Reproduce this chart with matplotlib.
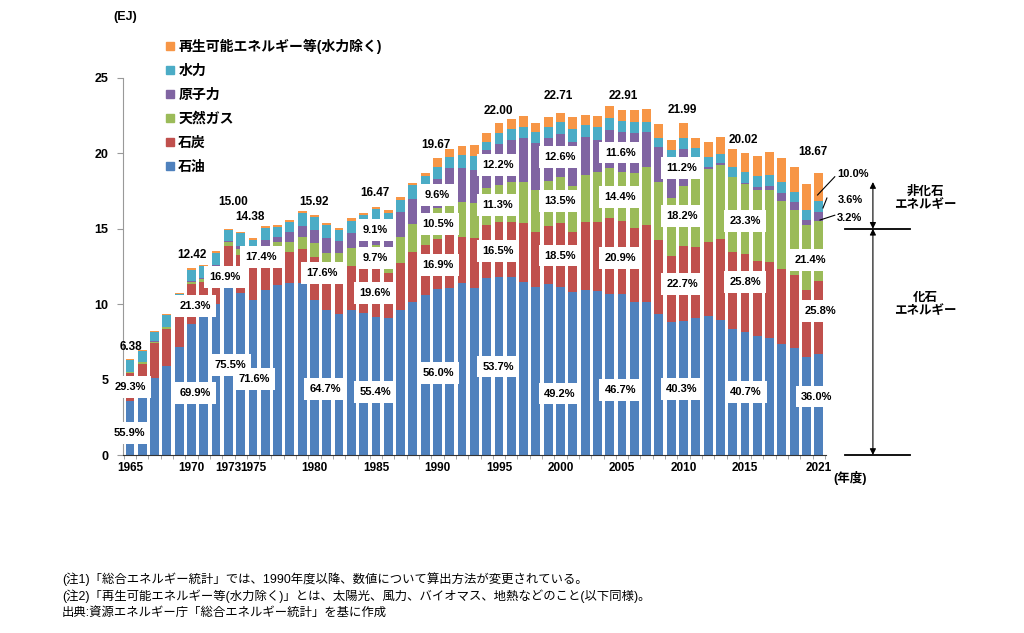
import numpy as np
import matplotlib
matplotlib.use("Agg")
import matplotlib.pyplot as plt
from matplotlib.lines import Line2D

plt.rcParams['font.family'] = ['Liberation Sans', 'Noto Sans CJK JP', 'DejaVu Sans']

# --- data (EJ) ---
years = list(range(1965, 2022))
oil = [3.57, 4.10, 5.10, 5.90, 7.16, 8.68, 9.20, 10.00, 11.33, 10.74,
       10.30, 10.94, 11.27, 11.38, 11.40, 10.30, 9.62, 9.33, 9.60, 9.40,
       9.12, 9.08, 9.62, 10.17, 10.60, 11.02, 11.07, 11.40, 11.07, 11.72,
       11.81, 11.80, 11.49, 11.16, 11.32, 11.17, 10.83, 10.94, 10.87, 10.68,
       10.70, 10.17, 10.17, 9.33, 8.80, 8.86, 9.06, 9.22, 8.95, 8.33,
       8.15, 7.89, 7.78, 7.36, 7.07, 6.52, 6.72]
coal = [1.87, 1.95, 2.33, 2.46, 2.60, 2.65, 2.30, 2.25, 2.54, 2.50,
        2.50, 2.60, 2.54, 2.10, 2.26, 2.80, 2.90, 3.30, 2.90, 3.00,
        3.23, 3.00, 3.10, 3.31, 3.30, 3.32, 3.63, 3.08, 3.30, 3.53,
        3.63, 3.67, 3.87, 3.64, 3.87, 4.20, 3.95, 4.53, 4.60, 5.01,
        4.79, 4.86, 5.08, 4.93, 4.42, 4.99, 4.75, 4.88, 5.35, 5.11,
        5.17, 4.97, 5.04, 4.95, 4.87, 4.42, 4.82]
gas = [0.08, 0.09, 0.09, 0.10, 0.12, 0.15, 0.15, 0.22, 0.23, 0.40,
       0.36, 0.33, 0.34, 0.67, 0.82, 0.98, 0.90, 0.75, 1.20, 1.40,
       1.60, 1.65, 1.76, 1.82, 1.95, 2.07, 2.20, 2.32, 2.33, 2.45,
       2.49, 2.60, 2.76, 2.80, 3.00, 3.07, 3.05, 3.10, 3.32, 3.31,
       3.30, 3.65, 3.87, 3.86, 3.80, 4.00, 4.60, 4.84, 4.93, 5.02,
       4.66, 4.71, 4.75, 4.56, 4.31, 4.31, 4.00]
nuclear = [0.00, 0.00, 0.01, 0.02, 0.04, 0.04, 0.10, 0.13, 0.09, 0.20,
           0.25, 0.40, 0.29, 0.66, 0.70, 0.85, 1.00, 0.80, 1.05, 1.25,
           1.50, 1.55, 1.66, 1.65, 1.85, 1.89, 2.10, 2.20, 2.20, 2.50,
           2.68, 2.80, 2.88, 3.07, 2.81, 2.86, 2.95, 2.53, 2.10, 2.55,
           2.66, 2.65, 2.32, 2.28, 2.65, 2.46, 1.20, 0.14, 0.11, 0.00,
           0.08, 0.22, 0.30, 0.53, 0.55, 0.33, 0.60]
hydro = [0.75, 0.75, 0.64, 0.80, 0.75, 0.76, 0.77, 0.82, 0.70, 0.85,
         0.87, 0.80, 0.70, 0.66, 0.86, 0.85, 0.85, 0.75, 0.75, 0.85,
         0.85, 0.80, 0.76, 0.95, 0.80, 0.83, 0.78, 0.90, 0.93, 0.58,
         0.73, 0.75, 0.77, 0.77, 0.72, 0.80, 0.85, 0.78, 0.88, 0.78,
         0.72, 0.73, 0.66, 0.64, 0.55, 0.73, 0.75, 0.70, 0.62, 0.62,
         0.70, 0.71, 0.68, 0.73, 0.66, 0.67, 0.67]
renew = [0.11, 0.08, 0.06, 0.07, 0.07, 0.14, 0.08, 0.09, 0.11, 0.10,
         0.10, 0.10, 0.11, 0.11, 0.12, 0.14, 0.13, 0.12, 0.20, 0.17,
         0.17, 0.17, 0.23, 0.16, 0.18, 0.54, 0.49, 0.60, 0.73, 0.59,
         0.66, 0.64, 0.71, 0.60, 0.68, 0.61, 0.76, 0.67, 0.73, 0.81,
         0.74, 0.82, 0.84, 0.89, 0.70, 0.95, 0.64, 1.00, 1.11, 1.19,
         1.26, 1.33, 1.56, 1.54, 1.66, 1.70, 1.87]

series_names = ['石油', '石炭', '天然ガス', '原子力', '水力', '再生可能エネルギー等(水力除く)']
series_colors = ['#4F81BD', '#C0504D', '#9BBB59', '#8064A2', '#4BACC6', '#F79646']

tick_years = [1965, 1970, 1973, 1975, 1980, 1985, 1990, 1995, 2000, 2005, 2010, 2015, 2021]

# labels inside the bars: (x, y, text)
share_labels = [
    (1964.92, 1.46, '55.9%'), (1965.0, 4.51, '29.3%'),
    (1970.29, 4.11, '69.9%'), (1970.29, 9.88, '21.3%'),
    (1973.13, 5.97, '75.5%'), (1972.73, 11.80, '16.9%'),
    (1975.08, 5.04, '71.6%'), (1975.65, 13.13, '17.4%'),
    (1980.85, 4.38, '64.7%'), (1980.61, 12.07, '17.6%'),
    (1984.92, 4.18, '55.4%'), (1984.92, 10.74, '19.6%'), (1984.92, 13.06, '9.7%'), (1984.92, 14.92, '9.1%'),
    (1990.04, 5.44, '56.0%'), (1990.04, 12.60, '16.9%'), (1990.04, 15.32, '10.5%'), (1990.0, 17.24, '9.6%'),
    (1994.92, 5.84, '53.7%'), (1994.92, 13.53, '16.5%'), (1994.92, 16.58, '11.3%'), (1994.92, 19.23, '12.2%'),
    (1999.96, 4.05, '49.2%'), (1999.96, 13.20, '18.5%'), (1999.96, 16.84, '13.5%'), (1999.96, 19.76, '12.6%'),
    (2004.85, 4.31, '46.7%'), (2004.85, 13.06, '20.9%'), (2004.85, 17.11, '14.4%'), (2004.85, 20.03, '11.6%'),
    (2009.88, 4.38, '40.3%'), (2009.88, 11.34, '22.7%'), (2009.88, 15.85, '18.2%'), (2009.88, 19.03, '11.2%'),
    (2015.08, 4.18, '40.7%'), (2015.0, 11.47, '25.8%'), (2015.0, 15.52, '23.3%'),
    (2020.85, 3.85, '36.0%'), (2021.1, 9.55, '25.8%'), (2020.29, 12.93, '21.4%'),
]
total_labels = [
    (1965.08, 7.16, '6.38'), (1970.04, 13.26, '12.42'), (1973.38, 16.78, '15.00'),
    (1974.76, 15.78, '14.38'), (1979.96, 16.78, '15.92'), (1984.92, 17.37, '16.47'),
    (1989.9, 20.56, '19.67'), (1994.92, 22.81, '22.00'), (1999.8, 23.81, '22.71'),
    (2005.1, 23.81, '22.91'), (2009.88, 22.88, '21.99'), (2014.9, 20.89, '20.02'),
    (2020.53, 20.09, '18.67'),
]
# 2021 small shares with leader lines: text pos, line start, line end
side_labels = [
    ('10.0%', (2022.47, 18.63), (2022.3, 18.45), (2020.9, 17.24)),
    ('3.6%', (2022.55, 16.91), (2021.66, 17.04), (2021.34, 16.38)),
    ('3.2%', (2022.47, 15.72), (2022.3, 15.90), (2021.1, 15.58)),
]

# --- figure ---
fig = plt.figure(figsize=(10.24, 6.33), dpi=100)
ax = fig.add_axes([0.1197, 0.2812, 0.6871, 0.5956])

x = np.array(years)
bottom = np.zeros(len(years))
for vals, name, col in zip([oil, coal, gas, nuclear, hydro, renew], series_names, series_colors):
    ax.bar(x, vals, width=0.72, bottom=bottom, color=col, label=name, linewidth=0)
    bottom += np.array(vals)

ax.set_xlim(1964.4, 2021.6)
ax.set_ylim(0, 25)
ax.set_yticks(range(0, 26, 5))
ax.set_xticks(tick_years)
ax.set_xticklabels([str(t) for t in tick_years], fontsize=8.5, fontweight='bold')
ax.set_xticks(np.arange(1964.5, 2022, 1), minor=True)
ax.tick_params(axis='x', which='major', length=0, pad=5)
ax.tick_params(axis='x', which='minor', length=3, color='#999999')
ax.tick_params(axis='y', length=4, color='#999999', labelsize=9, pad=6)
for lab in ax.get_yticklabels():
    lab.set_fontweight('bold')
for s in ['top', 'right']:
    ax.spines[s].set_visible(False)
ax.spines['left'].set_color('#999999')
ax.spines['bottom'].set_color('#333333')

box = dict(boxstyle='square,pad=0.5', fc='white', ec='none')
for xx, yy, t in share_labels:
    ax.text(xx, yy, t, ha='center', va='center', fontsize=8, fontweight='bold', bbox=box, zorder=5)
for xx, yy, t in total_labels:
    ax.text(xx, yy, t, ha='center', va='center', fontsize=8.5, fontweight='bold', zorder=5)
for t, tp, p0, p1 in side_labels:
    ax.text(tp[0], tp[1], t, ha='left', va='center', fontsize=8, fontweight='bold', clip_on=False)
    ax.plot([p0[0], p1[0]], [p0[1], p1[1]], color='black', lw=0.8, clip_on=False)

# fossil / non-fossil bracket
xl0, xl1, xa = 2023.13, 2028.42, 2025.4
ax.plot([xl0, xl1], [15, 15], color='black', lw=1.3, clip_on=False)
ax.plot([xl0, xl1], [0, 0], color='black', lw=1.3, clip_on=False)
arrow = dict(arrowstyle='<|-|>', color='black', lw=0.8, mutation_scale=9, shrinkA=0, shrinkB=0)
ax.annotate('', xy=(xa, 18.1), xytext=(xa, 15.0), arrowprops=arrow, annotation_clip=False)
ax.annotate('', xy=(xa, 15.0), xytext=(xa, 0.0), arrowprops=arrow, annotation_clip=False)
ax.text(2029.64, 17.0, '非化石\nエネルギー', ha='center', va='center', fontsize=9,
        fontweight='bold', linespacing=1.1, clip_on=False)
ax.text(2029.64, 10.0, '化石\nエネルギー', ha='center', va='center', fontsize=9,
        fontweight='bold', linespacing=1.1, clip_on=False)

fig.text(833 / 1024, 1 - 478 / 633, '(年度)', ha='left', va='center', fontsize=9, fontweight='bold')
fig.text(113 / 1024, 1 - 17 / 633, '(EJ)', ha='left', va='center', fontsize=9, fontweight='bold')

# legend (reversed order)
handles = [Line2D([], [], marker='s', linestyle='none', markersize=6, color=c) for c in series_colors][::-1]
fig.legend(handles, series_names[::-1], loc='upper left', bbox_to_anchor=(163 / 1024, 1 - 39 / 633),
           frameon=False, handletextpad=0.1, labelspacing=0.72, handlelength=1.0,
           borderaxespad=0, borderpad=0, prop={'weight': 'bold', 'size': 10})

notes = [
    '(注1)「総合エネルギー統計」では、1990年度以降、数値について算出方法が変更されている。',
    '(注2)「再生可能エネルギー等(水力除く)」とは、太陽光、風力、バイオマス、地熱などのこと(以下同様)。',
    '出典:資源エネルギー庁「総合エネルギー統計」を基に作成',
]
for i, n in enumerate(notes):
    fig.text(62 / 1024, 1 - (579 + 17 * i) / 633, n, ha='left', va='center', fontsize=8.9)

fig.savefig('out.png', dpi=100)
